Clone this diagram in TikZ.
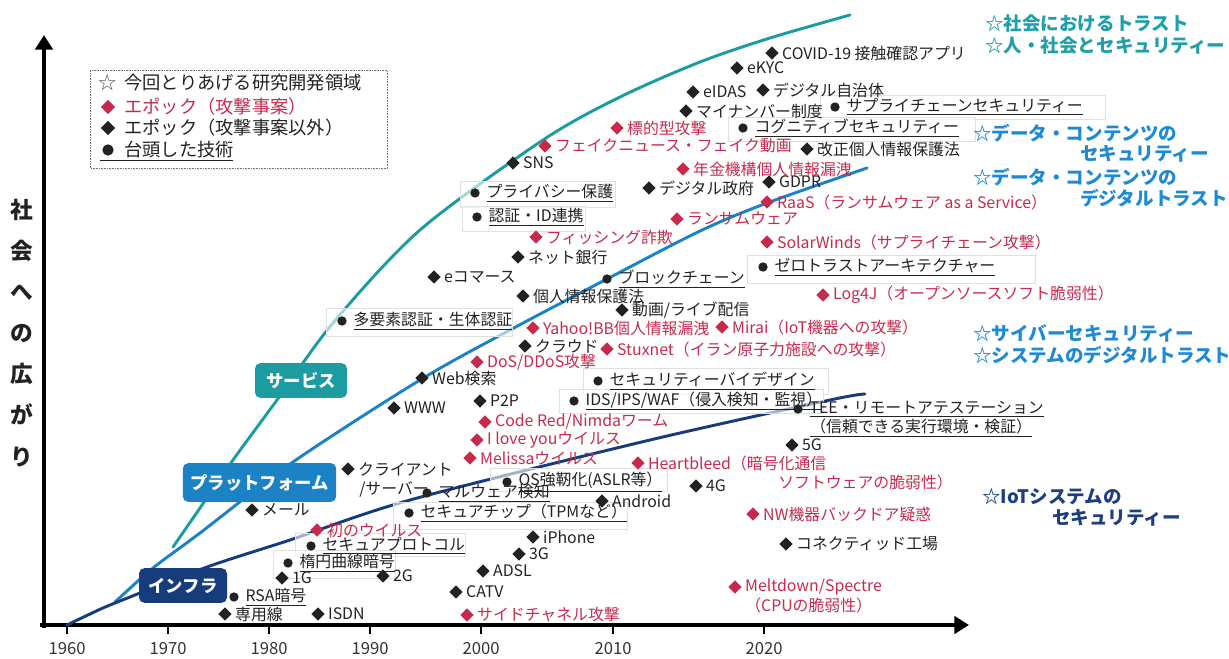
\documentclass[tikz,border=0pt]{standalone}
\usepackage{fontspec}
\setmainfont{Noto Sans CJK JP}
\usetikzlibrary{shapes.geometric,arrows.meta}
\definecolor{ink}{HTML}{222222}
\definecolor{atk}{HTML}{C72A4C}
\definecolor{svc}{HTML}{1C9CA0}
\definecolor{plt}{HTML}{1B82C5}
\definecolor{inf}{HTML}{163C7C}
\definecolor{svctxt}{HTML}{1FA0A8}
\definecolor{plttxt}{HTML}{1E8AD2}
\definecolor{inftxt}{HTML}{1D3F80}
\newcommand\lblfont{\fontsize{11.9}{14.5}\selectfont}
\newcommand\legfont{\fontsize{13.7}{16}\selectfont}
\newcommand\starfont{\bfseries\fontsize{13.9}{16}\selectfont}
\newcommand\catfont{\bfseries\fontsize{13}{15}\selectfont}
\newcommand\yrfont{\fontsize{12.5}{14}\selectfont}
\begin{document}
\begin{tikzpicture}[x=0.75pt,y=-0.75pt,
  dk/.style={diamond, fill=ink, draw=none, inner sep=0pt, minimum size=10pt},
  rd/.style={dk, fill=atk},
  dt/.style={circle, fill=ink, draw=none, inner sep=0pt, minimum size=7pt},
  lb/.style={font=\lblfont, text=ink, inner sep=0pt},
  lr/.style={lb, text=atk},
  ld/.style={lb, xshift=2.2pt},
  ldr/.style={lr, xshift=2.2pt},
  lt/.style={lb, xshift=4.8pt},
  axisline/.style={line width=3pt, draw=black, -{Triangle[length=11pt,width=13pt]}},
  tickmark/.style={line width=1.5pt, draw=black},
  yrlab/.style={font=\yrfont, text=black!80, inner sep=0pt},
  curve/.style={line width=2.2pt, line cap=round},
  catbox/.style={rounded corners=4pt, font=\catfont, text=white, inner sep=0pt, minimum height=26pt},
  techframe/.style={draw=black!12, line width=0.5pt, fill=white, fill opacity=0.6},
  legframe/.style={draw=black!55, line width=0.6pt, dash pattern=on 1.2pt off 0.8pt},
  legtxt/.style={font=\legfont, text=ink, inner sep=0pt, anchor=west},
  starlab/.style={font=\starfont, inner sep=0pt, anchor=west}
]
\useasboundingbox (0,0) rectangle (1229,658);

% axes
\coordinate (xend) at (969,625);
\coordinate (xstart) at (40,625);
\coordinate (ybot) at (44,628);
\coordinate (yend) at (44,35);
\draw[axisline] (xstart) -- (xend);
\draw[axisline] (ybot) -- (yend);
\foreach \x/\yr in {67/1960,168/1970,269/1980,370/1990,481/2000,613/2010,764/2020}{
  \draw[tickmark] (\x,625) -- (\x,634);
  \node[yrlab] (yr\yr) at (\x,649) {\yr};
}
\node[font=\bfseries\fontsize{17}{30.8}\selectfont, align=center, text=ink, inner sep=0pt] (ylab) at (22,333) {社\\会\\へ\\の\\広\\が\\り};

% curves
\draw[curve, svc] plot[smooth] coordinates {(173,547) (200,508) (233,460) (277,400) (333,323) (420,230) (543,140) (620,97) (700,62) (770,38) (850,15)};
\draw[curve, plt] plot[smooth] coordinates {(115,602) (153,568) (200,533) (293,462) (420,380) (510,330) (607,279) (700,231) (767,203) (867,168)};
\draw[curve, inf] plot[smooth] coordinates {(67,625) (90,614) (115,603) (207,567) (290,540) (410,500) (650,440) (830,400) (865,394)};

% category boxes
\node[catbox, fill=svc, minimum width=69pt] (svcbox) at (301,380.5) {サービス};
\node[catbox, fill=plt, minimum width=115pt, minimum height=29pt] (pltbox) at (259.5,482.5) {プラットフォーム};
\node[catbox, fill=inf, minimum width=66pt] (infbox) at (183,585.5) {インフラ};

% legend
\draw[legframe] (90,70) rectangle (387,168);
\node[font=\legfont, text=black!65, inner sep=0pt] (lstar) at (108,83) {☆};
\node[legtxt] (l1) at (124,83) {今回とりあげる研究開発領域};
\node[rd, minimum size=11pt] (lrd) at (108,107) {};
\node[legtxt, text=atk] (l2) at (124,107) {エポック（攻撃事案）};
\node[dk, minimum size=11pt] (ldk) at (108,128) {};
\node[legtxt] (l3) at (124,128) {エポック（攻撃事案以外）};
\node[dt, minimum size=8.5pt] (ldt) at (108,150) {};
\node[legtxt] (l4) at (124,150) {台頭した技術};
\coordinate (lu1) at (100,160);
\coordinate (lu2) at (233,160);
\draw[ink, line width=0.6pt] (lu1) -- (lu2);

% faint frames of technologies
\draw[techframe] (820,95) rectangle (1105,119);
\draw[techframe] (728,117) rectangle (975,141);
\draw[techframe] (460,181) rectangle (615,207);
\draw[techframe] (462,206) rectangle (585,231);
\draw[techframe] (747,255) rectangle (1035,283);
\draw[techframe] (326,308) rectangle (512,336);
\draw[techframe] (583,368) rectangle (828,394);
\draw[techframe] (559,389) rectangle (823,413);
\draw[techframe] (490,468) rectangle (667,491);
\draw[techframe] (393,502) rectangle (627,529);
\draw[techframe] (295,533) rectangle (465,556);
\draw[techframe] (273,550) rectangle (395,578);

% epochs (non-attack)
\node[dk, label={[ld]right:{COVID-19 接触確認アプリ}}] (covid) at (772,53) {};
\node[dk, label={[ld]right:{eKYC}}] (ekyc) at (737,68) {};
\node[dk, label={[ld]right:{eIDAS}}] (eidas) at (693,92) {};
\node[dk, label={[ld]right:{デジタル自治体}}] (dlocal) at (763,90) {};
\node[dk, label={[ld]right:{マイナンバー制度}}] (mynum) at (686,111) {};
\node[dk, label={[ld]right:{改正個人情報保護法}}] (kaisei) at (807,149) {};
\node[dk, label={[ld]right:{SNS}}] (sns) at (513,163) {};
\node[dk, label={[ld]right:{GDPR}}] (gdpr) at (769,182) {};
\node[dk, label={[ld]right:{デジタル政府}}] (dgov) at (649,188) {};
\node[dk, label={[ld]right:{ネット銀行}}] (netbank) at (518,257) {};
\node[dk, label={[ld]right:{eコマース}}] (ecom) at (434,277) {};
\node[dk, label={[ld]right:{個人情報保護法}}] (kojin) at (523,296) {};
\node[dk, label={[ld]right:{動画/ライブ配信}}] (video) at (622,310) {};
\node[dk, label={[ld]right:{クラウド}}] (cloud) at (525,346) {};
\node[dk, label={[ld]right:{Web検索}}] (websearch) at (422,378) {};
\node[dk, label={[ld]right:{P2P}}] (ptp) at (480,401) {};
\node[dk, label={[ld]right:{WWW}}] (www) at (394,408) {};
\node[dk, label={[ld]right:{5G}}] (gfive) at (792,445) {};
\node[dk, label={[ld]right:{クライアント}}] (client) at (348,469) {};
\node[lb, anchor=west] (client2) at ([shift={(11,20)}]client.center) {/サーバー};
\node[dk, label={[ld]right:{4G}}] (gfour) at (696,486) {};
\node[dk, label={[ld]right:{Android}}] (android) at (602,501) {};
\node[dk, label={[ld]right:{メール}}] (mail) at (252,510) {};
\node[dk, label={[ld]right:{iPhone}}] (iphone) at (533,537) {};
\node[dk, label={[ld]right:{コネクティッド工場}}] (connected) at (786,544) {};
\node[dk, label={[ld]right:{3G}}] (gthree) at (519,554) {};
\node[dk, label={[ld]right:{ADSL}}] (adsl) at (483,571) {};
\node[dk, label={[ld]right:{1G}}] (gone) at (282,578) {};
\node[dk, label={[ld]right:{2G}}] (gtwo) at (383,576) {};
\node[dk, label={[ld]right:{CATV}}] (catv) at (456,592) {};
\node[dk, label={[ld]right:{専用線}}] (senyo) at (225,614) {};
\node[dk, label={[ld]right:{ISDN}}] (isdn) at (318,614) {};

% epochs (attacks)
\node[rd, label={[ldr]right:{標的型攻撃}}] (targeted) at (617,128) {};
\node[rd, label={[ldr]right:{フェイクニュース・フェイク動画}}] (fake) at (545,146) {};
\node[rd, label={[ldr]right:{年金機構個人情報漏洩}}] (nenkin) at (683,169) {};
\node[rd, label={[ldr]right:{RaaS（ランサムウェア as a Service）}}] (raas) at (767,202) {};
\node[rd, label={[ldr]right:{ランサムウェア}}] (ransom) at (677,219) {};
\node[rd, label={[ldr]right:{フィッシング詐欺}}] (phish) at (536,237) {};
\node[rd, label={[ldr]right:{SolarWinds（サプライチェーン攻撃）}}] (solar) at (767,242) {};
\node[rd, label={[ldr]right:{Log4J（オープンソースソフト脆弱性）}}] (logj) at (823,295) {};
\node[rd, label={[ldr]right:{Yahoo!BB個人情報漏洩}}] (yahoo) at (533,328) {};
\node[rd, label={[ldr]right:{Mirai（IoT機器への攻撃）}}] (mirai) at (722,327) {};
\node[rd, label={[ldr]right:{Stuxnet（イラン原子力施設への攻撃）}}] (stuxnet) at (607,349) {};
\node[rd, label={[ldr]right:{DoS/DDoS攻撃}}] (dos) at (477,362) {};
\node[rd, label={[ldr]right:{Code Red/Nimdaワーム}}] (codered) at (485,422) {};
\node[rd, label={[ldr]right:{I love youウイルス}}] (iloveyou) at (477,440) {};
\node[rd, label={[ldr]right:{Melissaウイルス}}] (melissa) at (470,458) {};
\node[rd, label={[ldr]right:{Heartbleed（暗号化通信}}] (heartbleed) at (638,463) {};
\node[lr, anchor=west] (heartbleed2) at ([shift={(140,19)}]heartbleed.center) {ソフトウェアの脆弱性）};
\node[rd, label={[ldr]right:{NW機器バックドア疑惑}}] (nwbd) at (753,514) {};
\node[rd, label={[ldr]right:{初のウイルス}}] (firstvirus) at (317,530) {};
\node[rd, label={[ldr]right:{Meltdown/Spectre}}] (meltdown) at (735,587) {};
\node[lr, anchor=west] (meltdown2) at ([shift={(10,18)}]meltdown.center) {（CPUの脆弱性）};
\node[rd, label={[ldr]right:{サイドチャネル攻撃}}] (sidech) at (467,615) {};

% emerging technologies
\node[dt, label={[lt]right:{\underline{サプライチェーンセキュリティー}}}] (supply) at (835,107) {};
\node[dt, label={[lt]right:{\underline{コグニティブセキュリティー}}}] (cognitive) at (743,128) {};
\node[dt, label={[lt]right:{\underline{プライバシー保護}}}] (privacy) at (475,193) {};
\node[dt, label={[lt]right:{\underline{認証・ID連携}}}] (authid) at (477,217) {};
\node[dt, label={[lt]right:{\underline{ゼロトラストアーキテクチャー}}}] (zerotrust) at (763,267) {};
\node[dt, label={[lt]right:{\underline{ブロックチェーン}}}] (blockchain) at (607,279) {};
\node[dt, label={[lt]right:{\underline{多要素認証・生体認証}}}] (mfa) at (342,321) {};
\node[dt, label={[lt]right:{\underline{セキュリティーバイデザイン}}}] (sbd) at (598,381) {};
\node[dt, label={[lt]right:{\underline{IDS/IPS/WAF（侵入検知・監視）}}}] (ids) at (574,401) {};
\node[dt, label={[lt]right:{\underline{TEE・リモートアテステーション}}}] (tee) at (798,409) {};
\node[lb, anchor=west] (tee2) at ([shift={(12,19)}]tee.center) {\underline{（信頼できる実行環境・検証）}};
\node[dt, label={[lt]right:{\underline{OS強靭化(ASLR等）}}}] (osh) at (507,482) {};
\node[dt, label={[lt]right:{\underline{マルウェア検知}}}] (malware) at (427,493) {};
\node[dt, label={[lt]right:{\underline{セキュアチップ（TPMなど）}}}] (chip) at (409,513) {};
\node[dt, label={[lt]right:{\underline{セキュアプロトコル}}}] (protocol) at (311,546) {};
\node[dt, label={[lt]right:{\underline{楕円曲線暗号}}}] (ecc) at (288,563) {};
\node[dt, label={[lt]right:{\underline{RSA暗号}}}] (rsa) at (234,597) {};

% research areas
\node[starlab, text=svctxt] (s1) at (985,23) {☆社会におけるトラスト};
\node[starlab, text=svctxt] (s2) at (985,45) {☆人・社会とセキュリティー};
\node[starlab, text=plttxt] (s3) at (973,133) {☆データ・コンテンツの};
\node[starlab, text=plttxt] (s3b) at (1080,154) {セキュリティー};
\node[starlab, text=plttxt] (s4) at (973,177) {☆データ・コンテンツの};
\node[starlab, text=plttxt] (s4b) at (1080,198) {デジタルトラスト};
\node[starlab, text=plttxt] (s5) at (973,333) {☆サイバーセキュリティー};
\node[starlab, text=plttxt] (s6) at (973,355) {☆システムのデジタルトラスト};
\node[starlab, text=inftxt] (s7) at (982,497) {☆IoTシステムの};
\node[starlab, text=inftxt] (s7b) at (1052,518) {セキュリティー};
\end{tikzpicture}
\end{document}
